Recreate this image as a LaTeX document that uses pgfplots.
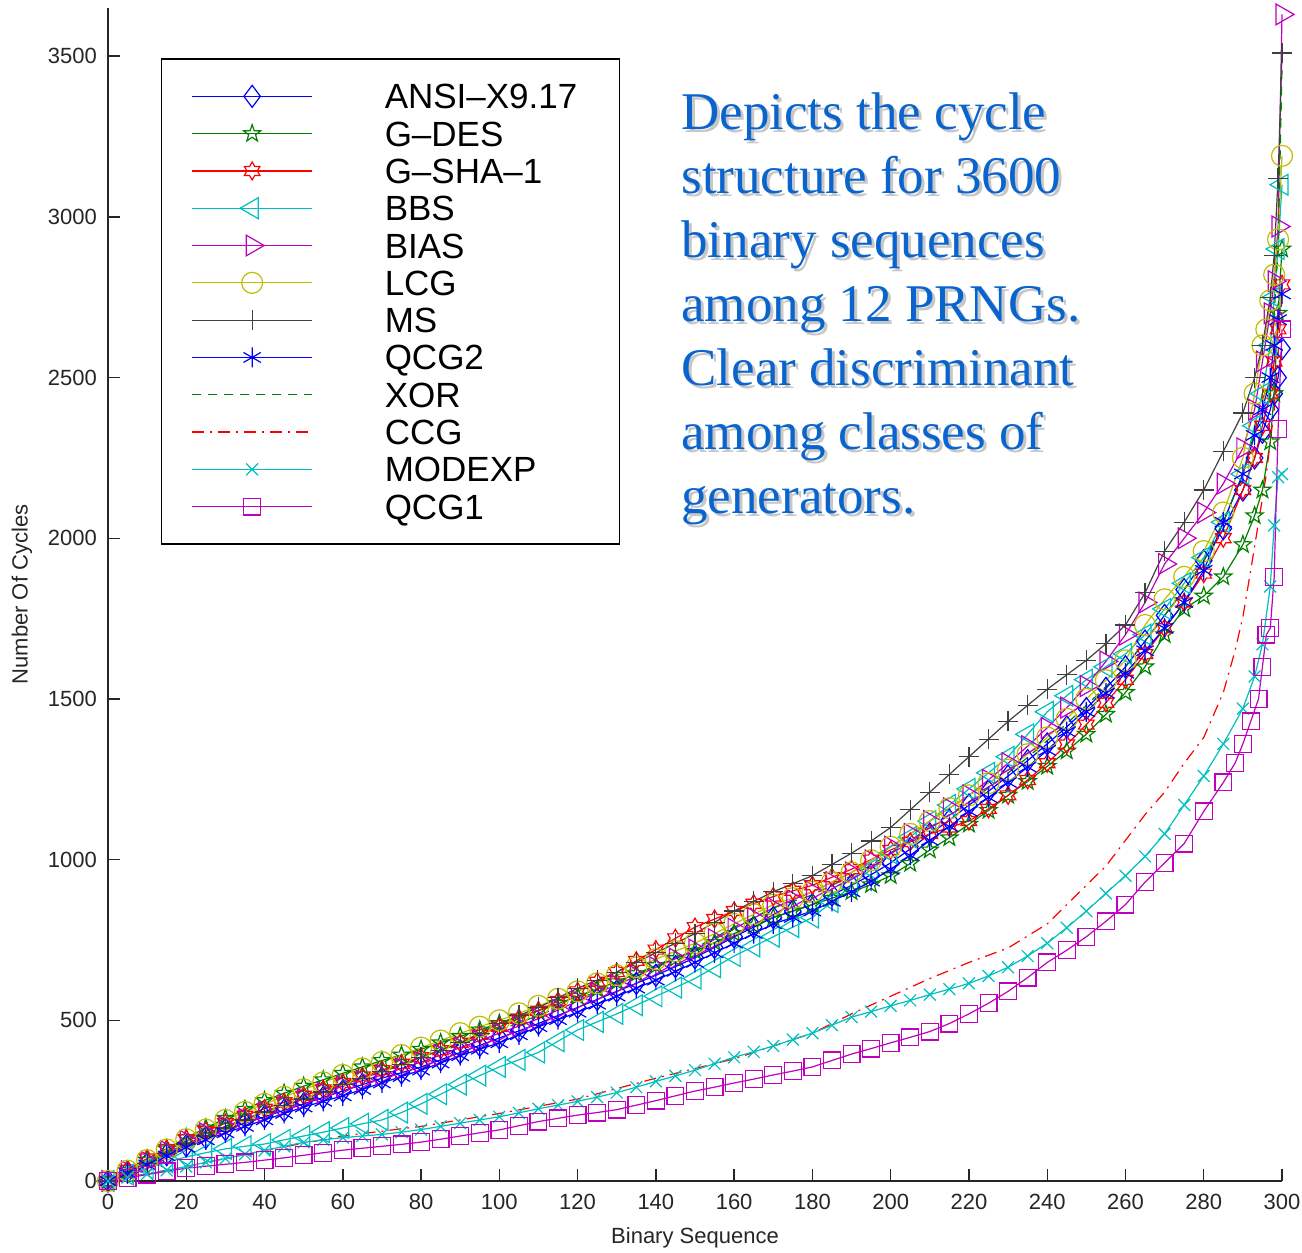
\documentclass[border=0pt]{standalone}
\usepackage{fontspec}
\setmainfont{Liberation Sans}
\newfontfamily\annfont{Liberation Serif}
\usepackage{pgfplots}
\pgfplotsset{compat=1.18}

\definecolor{mblue}{rgb}{0,0,1}
\definecolor{mgreen}{rgb}{0,0.5,0}
\definecolor{mred}{rgb}{1,0,0}
\definecolor{mcyan}{rgb}{0,0.75,0.75}
\definecolor{mmag}{rgb}{0.75,0,0.75}
\definecolor{myel}{rgb}{0.75,0.75,0}
\definecolor{mgrey}{rgb}{0.25,0.25,0.25}
\definecolor{txtblue}{RGB}{10,100,205}

\pgfdeclareplotmark{pentagram}{%
  \pgfpathmoveto{\pgfpointpolar{90}{\pgfplotmarksize}}%
  \pgfpathlineto{\pgfpointpolar{126}{0.4\pgfplotmarksize}}%
  \pgfpathlineto{\pgfpointpolar{162}{\pgfplotmarksize}}%
  \pgfpathlineto{\pgfpointpolar{198}{0.4\pgfplotmarksize}}%
  \pgfpathlineto{\pgfpointpolar{234}{\pgfplotmarksize}}%
  \pgfpathlineto{\pgfpointpolar{270}{0.4\pgfplotmarksize}}%
  \pgfpathlineto{\pgfpointpolar{306}{\pgfplotmarksize}}%
  \pgfpathlineto{\pgfpointpolar{342}{0.4\pgfplotmarksize}}%
  \pgfpathlineto{\pgfpointpolar{18}{\pgfplotmarksize}}%
  \pgfpathlineto{\pgfpointpolar{54}{0.4\pgfplotmarksize}}%
  \pgfpathclose\pgfusepathqstroke}
\pgfdeclareplotmark{hexagram}{%
  \pgfpathmoveto{\pgfpointpolar{90}{\pgfplotmarksize}}%
  \pgfpathlineto{\pgfpointpolar{120}{0.577\pgfplotmarksize}}%
  \pgfpathlineto{\pgfpointpolar{150}{\pgfplotmarksize}}%
  \pgfpathlineto{\pgfpointpolar{180}{0.577\pgfplotmarksize}}%
  \pgfpathlineto{\pgfpointpolar{210}{\pgfplotmarksize}}%
  \pgfpathlineto{\pgfpointpolar{240}{0.577\pgfplotmarksize}}%
  \pgfpathlineto{\pgfpointpolar{270}{\pgfplotmarksize}}%
  \pgfpathlineto{\pgfpointpolar{300}{0.577\pgfplotmarksize}}%
  \pgfpathlineto{\pgfpointpolar{330}{\pgfplotmarksize}}%
  \pgfpathlineto{\pgfpointpolar{0}{0.577\pgfplotmarksize}}%
  \pgfpathlineto{\pgfpointpolar{30}{\pgfplotmarksize}}%
  \pgfpathlineto{\pgfpointpolar{60}{0.577\pgfplotmarksize}}%
  \pgfpathclose\pgfusepathqstroke}

\begin{document}
\begin{tikzpicture}[x=1pt,y=1pt]
\begin{axis}[
  at={(0,0)}, anchor=south west,
  scale only axis, width=587pt, height=586.5pt,
  xmin=0, xmax=300, ymin=0, ymax=3650,
  axis x line*=bottom, axis y line*=left,
  axis line style={black!85, line width=0.7pt},
  tick align=inside, major tick length=5.8pt,
  tick style={black!85, line width=0.7pt},
  xtick={0,20,...,300}, ytick={0,500,...,3500},
  minor tick num=0,
  scaled ticks=false,
  /pgf/number format/assume math mode=true,
  /pgf/number format/1000 sep={},
  ticklabel style={font=\fontsize{11}{13}\selectfont, text=black!85},
  yticklabel style={xshift=-2pt},
  xticklabel style={yshift=-3pt},
  xlabel={Binary Sequence},
  ylabel={Number Of Cycles},
  label style={font=\fontsize{11}{13}\selectfont, text=black!85},
  xlabel style={at={(axis description cs:0.5,-0.0486)}, anchor=center},
  ylabel style={at={(axis description cs:-0.0733,0.5)}, anchor=center},
  legend cell align=left,
  legend image code/.code={\draw[mark repeat=2,mark phase=2] plot coordinates {(0pt,0pt) (30pt,0pt) (60pt,0pt)};},
  legend style={at={(axis description cs:0.0451,0.957)}, anchor=north west,
    draw=black, line width=0.6pt, fill=white,
    inner xsep=15pt, inner ysep=12.4pt,
    font=\fontsize{17.5}{18}\selectfont,
    row sep=6.15pt,
    nodes={inner sep=0pt, text height=12.5pt, text depth=0pt},
    /tikz/every odd column/.append style={column sep=36pt}},
  every axis plot/.append style={line width=0.6pt},
  clip=false,
]

\addplot[color=mblue, mark=diamond, mark size=5.5pt, mark options={solid}] coordinates {
(0,0)(5,28)(10,55)(15,82)(20,110)(25,135)(30,160)(35,180)(40,200)(45,220)(50,240)(55,260)(60,280)(65,300)(70,320)(75,337)(80,355)(85,377)(90,400)(95,422)(100,445)(105,467)(110,490)(115,515)(120,540)(125,565)(130,590)(135,615)(140,640)(145,667)(150,695)(155,727)(160,760)(165,790)(170,820)(175,840)(180,860)(185,890)(190,920)(195,953)(200,990)(205,1033)(210,1080)(215,1123)(220,1170)(225,1213)(230,1260)(235,1308)(240,1360)(245,1413)(250,1470)(255,1533)(260,1600)(265,1680)(270,1760)(275,1840)(280,1930)(285,2030)(290,2150)(293,2250)(295,2330)(297,2400)(298,2450)(299,2500)(300,2590)};
\addlegendentry{ANSI--X9.17\hspace*{6pt}}

\addplot[color=mgreen, mark=pentagram, mark size=4.5pt, mark options={solid}] coordinates {
(0,0)(5,32)(10,65)(15,100)(20,135)(25,165)(30,195)(35,223)(40,250)(45,273)(50,295)(55,315)(60,335)(65,355)(70,375)(75,392)(80,410)(85,430)(90,450)(95,470)(100,490)(105,510)(110,530)(115,552)(120,575)(125,597)(130,620)(135,645)(140,670)(145,692)(150,715)(155,742)(160,770)(165,795)(170,820)(175,840)(180,860)(185,880)(190,900)(195,922)(200,950)(205,988)(210,1030)(215,1068)(220,1110)(225,1153)(230,1200)(235,1243)(240,1290)(245,1338)(250,1390)(255,1452)(260,1520)(265,1600)(270,1700)(275,1780)(280,1820)(285,1880)(290,1980)(293,2070)(295,2150)(297,2300)(298,2450)(299,2700)(300,2900)};
\addlegendentry{G--DES}

\addplot[color=mred, mark=hexagram, mark size=4.5pt, mark options={solid}] coordinates {
(0,0)(5,35)(10,70)(15,100)(20,130)(25,155)(30,180)(35,203)(40,225)(45,245)(50,265)(55,285)(60,305)(65,325)(70,345)(75,365)(80,385)(85,407)(90,430)(95,455)(100,480)(105,505)(110,530)(115,560)(120,590)(125,620)(130,650)(135,685)(140,720)(145,755)(150,790)(155,815)(160,840)(165,863)(170,885)(175,903)(180,920)(185,945)(190,970)(195,1000)(200,1030)(205,1055)(210,1080)(215,1100)(220,1120)(225,1158)(230,1200)(235,1248)(240,1300)(245,1358)(250,1420)(255,1488)(260,1560)(265,1640)(270,1720)(275,1800)(280,1890)(285,2000)(290,2150)(293,2250)(295,2350)(297,2450)(298,2550)(299,2650)(300,2790)};
\addlegendentry{G--SHA--1}

\addplot[color=mcyan, mark=triangle, mark size=6pt, mark options={solid, rotate=90}] coordinates {
(0,0)(5,20)(10,40)(15,58)(20,75)(25,88)(30,100)(35,108)(40,115)(45,128)(50,140)(55,152)(60,165)(65,178)(70,190)(75,213)(80,240)(85,270)(90,300)(95,328)(100,355)(105,377)(110,400)(115,435)(120,470)(125,495)(130,520)(135,547)(140,575)(145,602)(150,630)(155,665)(160,700)(165,730)(170,760)(175,790)(180,820)(185,868)(190,920)(195,970)(200,1020)(205,1070)(210,1120)(215,1170)(220,1220)(225,1270)(230,1320)(235,1390)(240,1460)(245,1510)(250,1560)(255,1600)(260,1640)(265,1700)(270,1780)(275,1860)(280,1940)(285,2050)(290,2200)(293,2350)(295,2450)(297,2600)(298,2750)(299,2900)(300,3100)};
\addlegendentry{BBS}

\addplot[color=mmag, mark=triangle, mark size=6pt, mark options={solid, rotate=-90}] coordinates {
(0,0)(5,30)(10,60)(15,93)(20,125)(25,148)(30,170)(35,193)(40,215)(45,235)(50,255)(55,275)(60,295)(65,312)(70,330)(75,350)(80,370)(85,392)(90,415)(95,437)(100,460)(105,482)(110,505)(115,532)(120,560)(125,585)(130,610)(135,637)(140,665)(145,692)(150,720)(155,752)(160,785)(165,818)(170,850)(175,875)(180,900)(185,930)(190,960)(195,998)(200,1040)(205,1080)(210,1120)(215,1160)(220,1200)(225,1248)(230,1300)(235,1353)(240,1410)(245,1473)(250,1540)(255,1617)(260,1700)(265,1800)(270,1920)(275,2000)(280,2080)(285,2170)(290,2280)(293,2400)(295,2550)(297,2700)(298,2800)(299,2970)(300,3630)};
\addlegendentry{BIAS}

\addplot[color=myel, mark=o, mark size=5.25pt, mark options={solid}] coordinates {
(0,0)(5,32)(10,65)(15,98)(20,130)(25,160)(30,190)(35,215)(40,240)(45,262)(50,285)(55,307)(60,330)(65,350)(70,370)(75,392)(80,415)(85,437)(90,460)(95,480)(100,500)(105,522)(110,545)(115,567)(120,590)(125,615)(130,640)(135,665)(140,690)(145,715)(150,740)(155,770)(160,800)(165,830)(170,860)(175,880)(180,900)(185,930)(190,960)(195,998)(200,1040)(205,1080)(210,1120)(215,1160)(220,1200)(225,1238)(230,1280)(235,1328)(240,1380)(245,1438)(250,1500)(255,1558)(260,1620)(265,1730)(270,1810)(275,1880)(280,1960)(285,2080)(290,2250)(293,2450)(295,2600)(296,2650)(297,2740)(298,2820)(299,2930)(300,3190)};
\addlegendentry{LCG}

\addplot[color=mgrey, mark=+, mark size=5pt, mark options={solid}] coordinates {
(0,0)(5,27)(10,55)(15,85)(20,115)(25,140)(30,165)(35,190)(40,215)(45,235)(50,255)(55,277)(60,300)(65,320)(70,340)(75,362)(80,385)(85,407)(90,430)(95,460)(100,490)(105,515)(110,540)(115,570)(120,600)(125,625)(130,650)(135,680)(140,710)(145,740)(150,770)(155,805)(160,840)(165,870)(170,900)(175,925)(180,950)(185,985)(190,1020)(195,1058)(200,1100)(205,1155)(210,1210)(215,1265)(220,1320)(225,1375)(230,1430)(235,1480)(240,1530)(245,1575)(250,1620)(255,1672)(260,1730)(265,1830)(270,1960)(275,2050)(280,2150)(285,2270)(290,2390)(293,2500)(295,2600)(297,2750)(298,2880)(299,3120)(300,3510)};
\addlegendentry{MS}

\addplot[color=mblue, mark=asterisk, mark size=5pt, mark options={solid}] coordinates {
(0,0)(5,25)(10,50)(15,78)(20,105)(25,128)(30,150)(35,170)(40,190)(45,210)(50,230)(55,248)(60,265)(65,285)(70,305)(75,325)(80,345)(85,367)(90,390)(95,410)(100,430)(105,455)(110,480)(115,502)(120,525)(125,550)(130,575)(135,600)(140,625)(145,652)(150,680)(155,710)(160,740)(165,770)(170,800)(175,820)(180,840)(185,870)(190,900)(195,933)(200,970)(205,1013)(210,1060)(215,1103)(220,1150)(225,1193)(230,1240)(235,1288)(240,1340)(245,1398)(250,1460)(255,1518)(260,1580)(265,1650)(270,1720)(275,1800)(280,1900)(285,2050)(290,2200)(293,2320)(295,2400)(297,2500)(298,2600)(299,2680)(300,2760)};
\addlegendentry{QCG2}

\addplot[color=mgreen, dash pattern=on 4.5pt off 3.5pt] coordinates {
(0,0)(5,29)(10,58)(15,89)(20,120)(25,145)(30,170)(35,193)(40,215)(45,238)(50,260)(55,280)(60,300)(65,320)(70,340)(75,360)(80,380)(85,402)(90,425)(95,447)(100,470)(105,492)(110,515)(115,540)(120,565)(125,590)(130,615)(135,642)(140,670)(145,697)(150,725)(155,757)(160,790)(165,820)(170,850)(175,870)(180,890)(185,920)(190,950)(195,983)(200,1020)(205,1060)(210,1100)(215,1140)(220,1180)(225,1223)(230,1270)(235,1318)(240,1370)(245,1423)(250,1480)(255,1538)(260,1600)(265,1680)(270,1760)(275,1840)(280,1930)(285,2050)(290,2200)(293,2330)(295,2450)(297,2600)(298,2700)(299,2900)(300,3460)};
\addlegendentry{XOR}

\addplot[color=mred, dash pattern=on 6pt off 3pt on 1pt off 3pt] coordinates {
(0,0)(20,45)(40,95)(60,140)(80,170)(100,210)(120,255)(140,320)(160,380)(180,460)(190,520)(200,575)(210,630)(220,680)(230,725)(240,800)(250,920)(255,980)(260,1060)(265,1140)(270,1210)(275,1300)(280,1380)(285,1520)(288,1650)(290,1755)(292,1900)(294,2050)(296,2200)(298,2400)(300,2750)};
\addlegendentry{CCG}

\addplot[color=mcyan, mark=x, mark size=4.2pt, mark options={solid}] coordinates {
(0,0)(5,11)(10,22)(15,33)(20,45)(25,58)(30,70)(35,83)(40,95)(45,108)(50,120)(55,128)(60,135)(65,140)(70,145)(75,152)(80,160)(85,170)(90,180)(95,190)(100,200)(105,212)(110,225)(115,236)(120,248)(125,261)(130,275)(135,292)(140,310)(145,327)(150,345)(155,365)(160,385)(165,402)(170,420)(175,440)(180,460)(185,485)(190,510)(195,527)(200,545)(205,562)(210,580)(215,597)(220,615)(225,638)(230,665)(235,700)(240,740)(245,788)(250,840)(255,895)(260,950)(265,1010)(270,1080)(275,1170)(280,1260)(285,1360)(290,1470)(293,1570)(295,1670)(297,1850)(298,2040)(299,2190)(300,2200)};
\addlegendentry{MODEXP}

\addplot[color=mmag, mark=square, mark size=4.2pt, mark options={solid}] coordinates {
(0,0)(5,10)(10,20)(15,30)(20,40)(25,46)(30,52)(35,58)(40,65)(45,72)(50,80)(55,88)(60,96)(65,102)(70,108)(75,114)(80,121)(85,130)(90,140)(95,150)(100,159)(105,172)(110,185)(115,195)(120,205)(125,213)(130,222)(135,236)(140,250)(145,265)(150,280)(155,292)(160,305)(165,317)(170,330)(175,342)(180,355)(185,375)(190,395)(195,412)(200,430)(205,447)(210,465)(215,490)(220,520)(225,553)(230,590)(235,633)(240,680)(245,718)(250,760)(255,808)(260,860)(265,930)(270,990)(275,1050)(280,1150)(285,1240)(288,1300)(290,1360)(292,1430)(294,1500)(295,1600)(296,1700)(297,1720)(298,1880)(299,2340)(300,2650)};
\addlegendentry{QCG1}
\end{axis}

\begin{scope}[every node/.style={anchor=base west, inner sep=0pt, font=\annfont\fontsize{26.5}{30}\selectfont}]
\foreach \t/\yy in {{Depicts the cycle}/525.5, {structure for 3600}/493.5, {binary sequences}/461.5, {among 12 PRNGs.}/429.5, {Clear discriminant}/397.5, {among classes of}/365.5, {generators.}/333.5}{
  \node[text=black!22] at (288,\yy-1.5) {\t};
  \node[text=txtblue] at (286.5,\yy) {\t};
}
\end{scope}

\pgfresetboundingbox
\path[use as bounding box] (-54,-36) rectangle (597,590.5);
\end{tikzpicture}
\end{document}
